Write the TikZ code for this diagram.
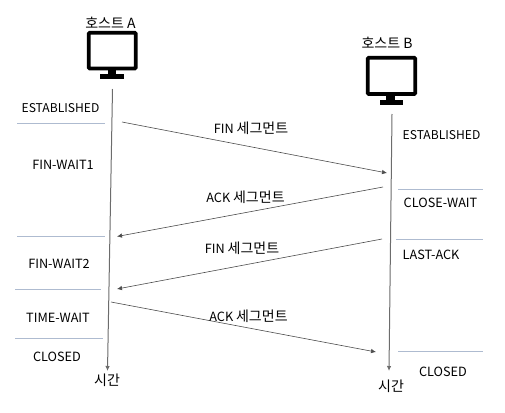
\documentclass[tikz,border=0pt]{standalone}
\usepackage{fontspec}
\setmainfont{Noto Sans CJK KR}
\usetikzlibrary{arrows.meta}
\definecolor{rulec}{HTML}{AEBBD0}
\newcommand{\hg}{\fontsize{14}{15}\selectfont}
\tikzset{
  lbl/.style={inner sep=0pt,yshift=-0.7pt,font=\fontsize{12.7}{14}\selectfont,text=black},
  lblnarrow/.style={inner sep=0pt,yshift=-0.7pt,font=\fontsize{12.1}{14}\selectfont,text=black},
  rulebar/.style={draw=rulec,line width=1pt},
  axisline/.style={draw=gray!85!black,line width=1pt,-{Latex[length=5pt,width=4.5pt]}},
  msg/.style={draw=black!70,line width=0.6pt,-{Latex[length=5pt,width=4.5pt]}},
  screen/.style={draw=black,fill=white,line width=3.7pt,rounded corners=1pt},
  stand/.style={fill=black,draw=none}
}
\begin{document}
\begin{tikzpicture}[x=1pt,y=-1pt]
\useasboundingbox (0,0) rectangle (505,412);
% monitors
\draw[screen] (88.8,32.8) rectangle (135.7,68.5);
\fill[stand] (108,70) rectangle (116,74);
\fill[stand] (100,73.5) rectangle (123.5,78.5);
\draw[screen] (367.8,57.8) rectangle (415.2,94);
\fill[stand] (386,95) rectangle (395,101);
\fill[stand] (380,100) rectangle (403,104.5);
% lifelines
\coordinate (aTop) at (112.5,89);
\coordinate (aBot) at (107.5,371);
\coordinate (bTop) at (392,114);
\coordinate (bBot) at (389,371);
\draw[axisline] (aTop) -- (aBot);
\draw[axisline] (bTop) -- (bBot);
% messages
\coordinate (m1s) at (122,122); \coordinate (m1e) at (387,173);
\coordinate (m2s) at (383,187); \coordinate (m2e) at (117,236.5);
\coordinate (m3s) at (382,239); \coordinate (m3e) at (117,289);
\coordinate (m4s) at (111,302); \coordinate (m4e) at (376,352);
\draw[msg] (m1s) -- (m1e);
\draw[msg] (m2s) -- (m2e);
\draw[msg] (m3s) -- (m3e);
\draw[msg] (m4s) -- (m4e);
% state separators
\coordinate (r1a) at (17,123.5); \coordinate (r1b) at (105,123.5);
\coordinate (r2a) at (17,236.5); \coordinate (r2b) at (105,236.5);
\coordinate (r3a) at (15,289.5); \coordinate (r3b) at (101,289.5);
\coordinate (r4a) at (15,338.5); \coordinate (r4b) at (103,338.5);
\coordinate (r5a) at (398,189); \coordinate (r5b) at (483,189);
\coordinate (r6a) at (396,239); \coordinate (r6b) at (483,239);
\coordinate (r7a) at (398,351.5); \coordinate (r7b) at (483,351.5);
\draw[rulebar] (r1a) -- (r1b);
\draw[rulebar] (r2a) -- (r2b);
\draw[rulebar] (r3a) -- (r3b);
\draw[rulebar] (r4a) -- (r4b);
\draw[rulebar] (r5a) -- (r5b);
\draw[rulebar] (r6a) -- (r6b);
\draw[rulebar] (r7a) -- (r7b);
% labels
\node[lbl] (hostA) at (110.5,22) {\hg 호스트 A};
\node[lbl] (hostB) at (387,42) {\hg 호스트 B};
\node[lblnarrow] (sA1) at (60.5,107) {ESTABLISHED};
\node[lbl] (sA2) at (63,164) {FIN-WAIT1};
\node[lbl] (sA3) at (59,263) {FIN-WAIT2};
\node[lbl] (sA4) at (58,317) {TIME-WAIT};
\node[lbl] (sA5) at (57,356) {CLOSED};
\node[lbl] (timeA) at (107,380) {\hg 시간};
\node[lblnarrow] (sB1) at (441.5,134) {ESTABLISHED};
\node[lbl] (sB2) at (440.5,202) {CLOSE-WAIT};
\node[lbl] (sB3) at (431,254) {LAST-ACK};
\node[lbl] (sB4) at (443,371) {CLOSED};
\node[lbl] (timeB) at (391,386) {\hg 시간};
\node[lbl] (l1) at (251,128) {FIN \hg 세그먼트};
\node[lbl] (l2) at (245.5,197) {ACK \hg 세그먼트};
\node[lbl] (l3) at (242,248) {FIN \hg 세그먼트};
\node[lbl] (l4) at (248.5,316) {ACK \hg 세그먼트};
\end{tikzpicture}
\end{document}
